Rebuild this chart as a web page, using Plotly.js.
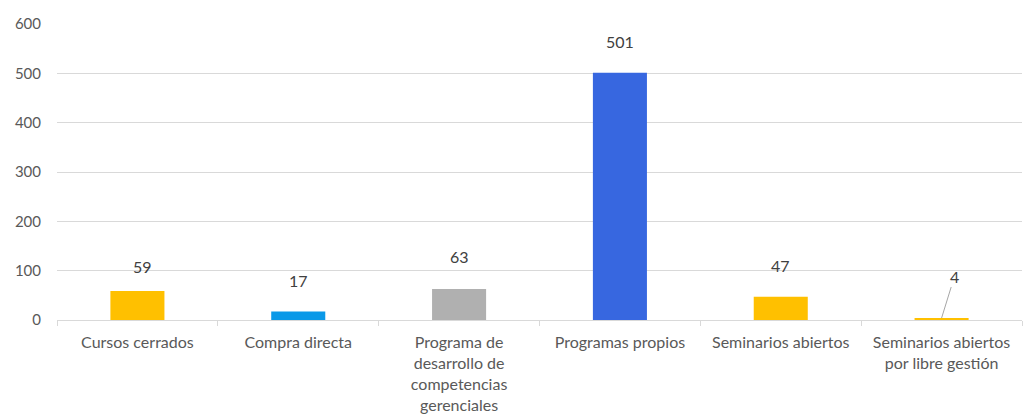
<!DOCTYPE html>
<html>
<head>
<meta charset="utf-8">
<script src="https://cdn.plot.ly/plotly-3.0.1.min.js"></script>
<style>
  html, body { margin: 0; padding: 0; background: #fff; }
  #chart { width: 1031px; height: 418px; }
</style>
</head>
<body>
<div id="chart"></div>
<script>
// categories as shown on the x axis (line breaks as in the picture)
const categories = [
  "Cursos cerrados",
  "Compra directa",
  "Programa de<br>desarrollo de<br>competencias<br>gerenciales",
  "Programas propios",
  "Seminarios abiertos",
  "Seminarios abiertos<br>por libre gestión"
];
const values = [59, 17, 63, 501, 47, 4];
const barColors = ["#FFC000", "#0A99E8", "#B0B0B0", "#3767E0", "#FFC000", "#FFC000"];
const yTicks = [0, 100, 200, 300, 400, 500, 600];

const fontFamily = "Lato, 'Open Sans', sans-serif";

const trace = {
  type: "bar",
  x: categories,
  y: values,
  marker: {color: barColors},
  hoverinfo: "none"
};

// value labels above bars; the last one uses a leader line
const labelShift = [24, 31, 32, 31, 31, 0];
const annotations = values.map((v, i) => {
  const last = i === values.length - 1;
  return {
    x: categories[i],
    y: v,
    text: String(v),
    showarrow: last,
    arrowhead: 0,
    arrowwidth: 1,
    arrowcolor: "#A6A6A6",
    ax: last ? 13 : 0,
    ay: last ? -42 : 0,
    yshift: labelShift[i],
    xshift: i === 0 ? 5 : 0,
    font: {family: fontFamily, size: 16, color: "#404040"}
  };
});

const layout = {
  width: 1031,
  height: 418,
  margin: {l: 57, r: 9, t: 24, b: 98},
  paper_bgcolor: "#fff",
  plot_bgcolor: "#fff",
  bargap: 0.664,
  showlegend: false,
  font: {family: fontFamily, size: 16, color: "#595959"},
  xaxis: {
    type: "category",
    showgrid: false,
    showline: true,
    linecolor: "#D9D9D9",
    linewidth: 1,
    ticks: "outside",
    tickson: "boundaries",
    ticklen: 5,
    tickcolor: "#D9D9D9",
    ticklabelstandoff: 8,
    tickfont: {family: fontFamily, size: 16, color: "#595959"},
    fixedrange: true
  },
  yaxis: {
    range: [0, 600],
    tickvals: yTicks,
    showgrid: true,
    gridcolor: "#D9D9D9",
    gridwidth: 1,
    zeroline: false,
    showline: false,
    ticklabelstandoff: 15,
    tickfont: {family: fontFamily, size: 15, color: "#595959"},
    fixedrange: true
  },
  annotations: annotations
};

Plotly.newPlot("chart", [trace], layout, {displayModeBar: false, staticPlot: true});
</script>
</body>
</html>
